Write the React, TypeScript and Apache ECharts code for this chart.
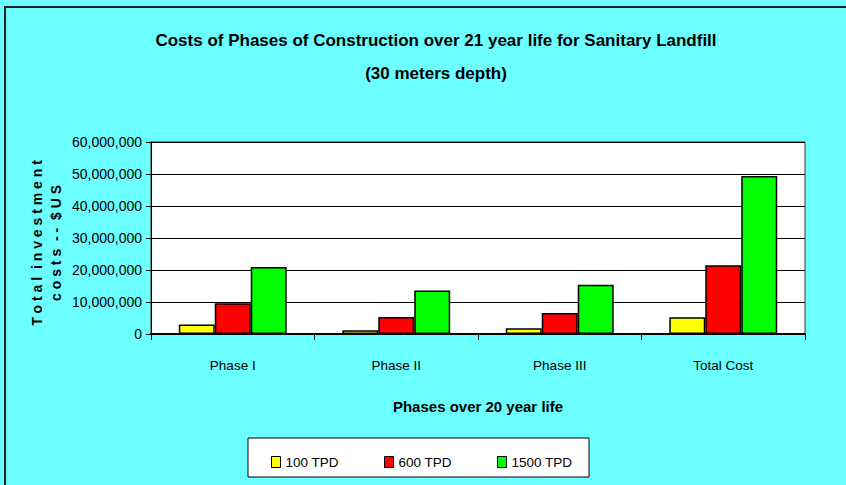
import React, { useEffect, useRef } from "react";
import * as echarts from "echarts";

const categories = ["Phase I", "Phase II", "Phase III", "Total Cost"];
const seriesNames = ["100 TPD", "600 TPD", "1500 TPD"];
const tpd100 = [3000000, 1150000, 1800000, 5200000];
const tpd600 = [9600000, 5300000, 6600000, 21500000];
const tpd1500 = [20900000, 13600000, 15400000, 49400000];
const seriesColors = ["#FFFF00", "#FF0000", "#00FF00"];
const yTicks = { min: 0, max: 60000000, interval: 10000000 };

const FONT = '"Liberation Sans", Arial, sans-serif';

export default function App() {
  const ref = useRef<HTMLDivElement>(null);
  useEffect(() => {
    if (!ref.current) return;
    const chart = echarts.init(ref.current, null, { renderer: "svg" });
    const values = [tpd100, tpd600, tpd1500];
    const legendX = [266, 379, 492];
    chart.setOption({
      animation: false,
      backgroundColor: "#6BFFFF",
      textStyle: { fontFamily: FONT, color: "#000" },
      title: {
        text: "Costs of Phases of Construction over 21 year life for Sanitary Landfill\n(30 meters depth)",
        left: 431,
        top: 19,
        textAlign: "center",
        textStyle: { fontFamily: FONT, fontSize: 17, fontWeight: "bold", color: "#000", lineHeight: 33 },
      },
      grid: { left: 151, right: 41, top: 142, bottom: 151, show: true, backgroundColor: "#FFFFFF", borderColor: "#333", borderWidth: 1 },
      legend: seriesNames.map((n, i) => ({
        data: [n],
        left: legendX[i],
        top: 450,
        itemWidth: 9,
        itemHeight: 11,
        itemGap: 0,
        icon: "rect",
        selectedMode: false,
        textStyle: { fontFamily: FONT, fontSize: 13.5, color: "#000" },
        itemStyle: { borderColor: "#000", borderWidth: 1 },
      })),
      graphic: [
        { type: "rect", shape: { x: 5, y: 7, width: 860, height: 500 }, style: { fill: "none", stroke: "#222", lineWidth: 2 }, silent: true },
        { type: "rect", shape: { x: 248, y: 438, width: 341, height: 39 }, style: { fill: "#FFFFFF", stroke: "#000", lineWidth: 1 }, z: -1, silent: true },
        {
          type: "text",
          x: 37,
          y: 243,
          rotation: Math.PI / 2,
          style: {
            text: "T o t a l  i n v e s t m e n t",
            fontFamily: FONT,
            fontSize: 14,
            fontWeight: "bold",
            fill: "#000",
            align: "center",
            verticalAlign: "middle",
          },
        },
        {
          type: "text",
          x: 56,
          y: 243,
          rotation: Math.PI / 2,
          style: {
            text: "c o s t s  - -  $ U S",
            fontFamily: FONT,
            fontSize: 14,
            fontWeight: "bold",
            fill: "#000",
            align: "center",
            verticalAlign: "middle",
          },
        },
      ],
      xAxis: {
        type: "category",
        data: categories,
        name: "Phases over 20 year life",
        nameLocation: "middle",
        nameGap: 65,
        nameTextStyle: { fontFamily: FONT, fontSize: 15, fontWeight: "bold", color: "#000" },
        axisLine: { lineStyle: { color: "#000", width: 2 } },
        axisTick: { show: true, alignWithLabel: false, length: 6, inside: false, lineStyle: { color: "#000" } },
        axisLabel: { fontFamily: FONT, fontSize: 13.5, color: "#000", margin: 24 },
      },
      yAxis: {
        type: "value",
        min: yTicks.min,
        max: yTicks.max,
        interval: yTicks.interval,
        axisLine: { show: true, lineStyle: { color: "#000", width: 1 } },
        axisTick: { show: true, length: 5, lineStyle: { color: "#000" } },
        axisLabel: {
          fontFamily: FONT,
          fontSize: 14,
          color: "#000",
          margin: 9,
          formatter: (v: number) => v.toLocaleString("en-US"),
        },
        splitLine: { show: true, lineStyle: { color: "#000", width: 1 } },
      },
      series: seriesNames.map((n, i) => ({
        name: n,
        type: "bar",
        data: values[i],
        barGap: "0%",
        barCategoryGap: "34%",
        itemStyle: { color: seriesColors[i], borderColor: "#000", borderWidth: 1.5 },
      })),
    });
    return () => chart.dispose();
  }, []);
  return <div ref={ref} style={{ position: "fixed", left: 0, top: 0, width: 846, height: 485 }} />;
}
